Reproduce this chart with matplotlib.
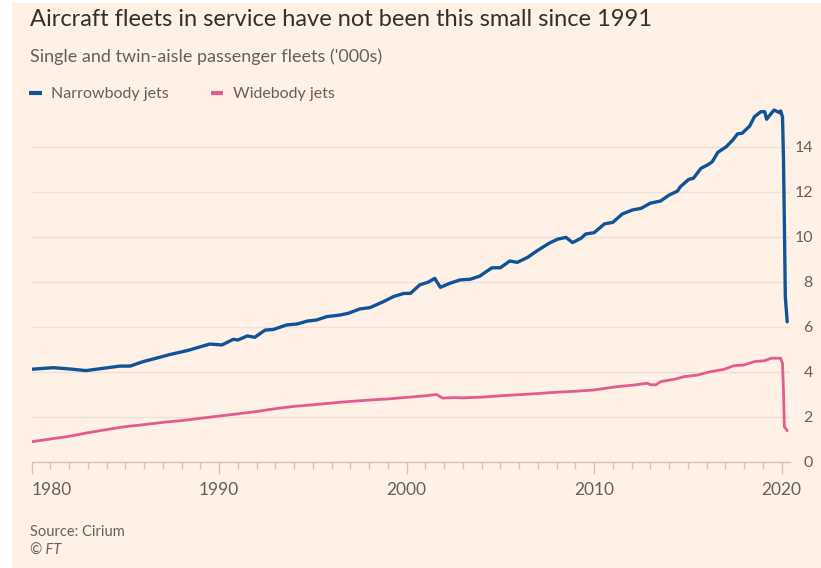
import matplotlib.pyplot as plt
import matplotlib.patches as mpatches
from matplotlib.ticker import MultipleLocator

# Narrowbody fleet ('000s)
nb_years = [1980.0, 1981.15, 1982.05, 1982.9, 1983.8, 1984.7, 1985.25, 1985.95, 1986.5,
            1987.4, 1988.3, 1989.0, 1989.5, 1990.15, 1990.75, 1991.0, 1991.5, 1991.9,
            1992.45, 1992.9, 1993.6, 1994.15, 1994.7, 1995.2, 1995.75, 1996.45, 1996.9,
            1997.5, 1998.05, 1998.75, 1999.3, 1999.85, 2000.2, 2000.7, 2001.15, 2001.5,
            2001.8, 2002.3, 2002.85, 2003.4, 2003.9, 2004.55, 2005.0, 2005.5, 2005.9,
            2006.45, 2006.95, 2007.6, 2008.05, 2008.5, 2008.85, 2009.3, 2009.55, 2010.0,
            2010.55, 2011.0, 2011.5, 2012.05, 2012.5, 2013.0, 2013.55, 2014.0, 2014.45,
            2014.6, 2015.05, 2015.3, 2015.7, 2016.05, 2016.3, 2016.6, 2017.05, 2017.4,
            2017.65, 2017.9, 2018.3, 2018.55, 2018.9, 2019.1, 2019.2, 2019.45, 2019.6,
            2019.9, 2019.95, 2020.05, 2020.1, 2020.15, 2020.2, 2020.3]
nb_values = [4.10, 4.17, 4.11, 4.04, 4.14, 4.24, 4.24, 4.44, 4.56,
             4.76, 4.93, 5.10, 5.22, 5.18, 5.43, 5.40, 5.58, 5.52,
             5.84, 5.87, 6.07, 6.11, 6.24, 6.29, 6.44, 6.51, 6.59,
             6.78, 6.84, 7.10, 7.33, 7.47, 7.47, 7.85, 7.97, 8.14,
             7.74, 7.92, 8.07, 8.10, 8.24, 8.61, 8.61, 8.91, 8.85,
             9.07, 9.36, 9.70, 9.88, 9.96, 9.73, 9.92, 10.11, 10.17,
             10.56, 10.63, 11.00, 11.18, 11.25, 11.48, 11.58, 11.84, 12.02,
             12.21, 12.54, 12.59, 13.03, 13.18, 13.32, 13.74, 13.99, 14.29,
             14.56, 14.59, 14.91, 15.32, 15.55, 15.55, 15.21, 15.47, 15.62,
             15.50, 15.58, 15.32, 13.55, 10.59, 7.33, 6.21]

# Widebody fleet ('000s)
wb_years = [1980.0, 1981.0, 1982.0, 1983.0, 1984.0, 1985.0, 1986.0, 1987.0, 1988.0,
            1989.0, 1990.0, 1991.0, 1992.0, 1993.0, 1994.0, 1995.0, 1996.0, 1997.0,
            1998.0, 1999.0, 2000.0, 2001.0, 2001.6, 2001.9, 2002.5, 2003.0, 2004.0,
            2005.0, 2006.0, 2007.0, 2008.0, 2009.0, 2010.0, 2011.25, 2012.15, 2012.85,
            2013.0, 2013.3, 2013.55, 2014.25, 2014.8, 2015.5, 2016.2, 2016.95, 2017.45,
            2018.0, 2018.55, 2019.1, 2019.45, 2019.95, 2020.05, 2020.1, 2020.15, 2020.3]
wb_values = [0.88, 1.00, 1.12, 1.28, 1.42, 1.55, 1.64, 1.74, 1.82,
             1.92, 2.02, 2.12, 2.22, 2.35, 2.45, 2.52, 2.60, 2.67,
             2.73, 2.78, 2.85, 2.92, 2.98, 2.82, 2.84, 2.83, 2.86,
             2.92, 2.97, 3.02, 3.08, 3.12, 3.18, 3.33, 3.40, 3.48,
             3.41, 3.41, 3.55, 3.65, 3.77, 3.84, 3.99, 4.10, 4.26,
             4.29, 4.44, 4.48, 4.59, 4.59, 4.36, 3.18, 1.55, 1.37]

title = "Aircraft fleets in service have not been this small since 1991"
subtitle = "Single and twin-aisle passenger fleets ('000s)"
series_names = ["Narrowbody jets", "Widebody jets"]
x_ticks = [1980, 1990, 2000, 2010, 2020]
y_ticks = [0, 2, 4, 6, 8, 10, 12, 14]

plt.rcParams['font.family'] = ['Lato', 'DejaVu Sans']

W, H = 821, 568
bg = '#FFF1E5'
blue = '#0F5499'
pink = '#E55B8E'
grey = '#66605C'

fig = plt.figure(figsize=(W / 100, H / 100), dpi=100, facecolor='white')
fig.patches.append(mpatches.Rectangle((12 / W, 0), 1, 1 - 3 / H, transform=fig.transFigure,
                                      facecolor=bg, edgecolor='none', zorder=-10))

ax = fig.add_axes([31.7 / W, 1 - 461.5 / H, (790 - 31.7) / W, (461.5 - 101.5) / H])
ax.set_facecolor(bg)

ax.plot(nb_years, nb_values, color=blue, lw=2.4, solid_capstyle='round',
        solid_joinstyle='round', label=series_names[0])
ax.plot(wb_years, wb_values, color=pink, lw=2.0, solid_capstyle='round',
        solid_joinstyle='round', label=series_names[1])

ax.set_xlim(1980, 2020.45)
ax.set_ylim(0, 16)

for s in ['top', 'left', 'right']:
    ax.spines[s].set_visible(False)
ax.spines['bottom'].set_color('#CFC5BC')
ax.spines['bottom'].set_linewidth(1.0)

ax.set_yticks(y_ticks)
ax.yaxis.tick_right()
ax.tick_params(axis='y', length=0, pad=16.5, labelsize=11.5, labelcolor=grey)
for lab in ax.get_yticklabels():
    lab.set_horizontalalignment('right')
ax.grid(axis='y', color='#EDE1D6', lw=1.0)

ax.set_xticks(x_ticks)
ax.set_xticklabels([str(y) for y in x_ticks])
ax.xaxis.set_minor_locator(MultipleLocator(1))
ax.tick_params(axis='x', which='major', length=8.5, width=1.0, color='#CFC5BC',
               pad=6, labelsize=12.5, labelcolor=grey)
ax.tick_params(axis='x', which='minor', length=5, width=1.0, color='#CFC5BC')
ax.get_xticklabels()[0].set_horizontalalignment('left')

fig.text(30 / W, 1 - 20 / H, title, fontsize=17, color='#33302E', va='center')
fig.text(30 / W, 1 - 57 / H, subtitle, fontsize=13, color=grey, va='center')

leg = ax.legend(loc='center left', bbox_to_anchor=(29 / W, 1 - 94 / H),
                bbox_transform=fig.transFigure, ncol=2, frameon=False,
                handlelength=0.8, handletextpad=0.6, columnspacing=2.6,
                fontsize=11.5, borderpad=0, borderaxespad=0)
for t in leg.get_texts():
    t.set_color(grey)
for h in leg.legend_handles:
    h.set_linewidth(3)
    h.set_solid_capstyle('butt')

fig.text(30 / W, 1 - 532 / H, "Source: Cirium", fontsize=10.5, color=grey, va='center')
fig.text(30 / W, 1 - 551 / H, "\u00a9 FT", fontsize=10.5, color=grey, va='center',
         style='italic')

fig.savefig('out.png', dpi=100, facecolor=fig.get_facecolor())
